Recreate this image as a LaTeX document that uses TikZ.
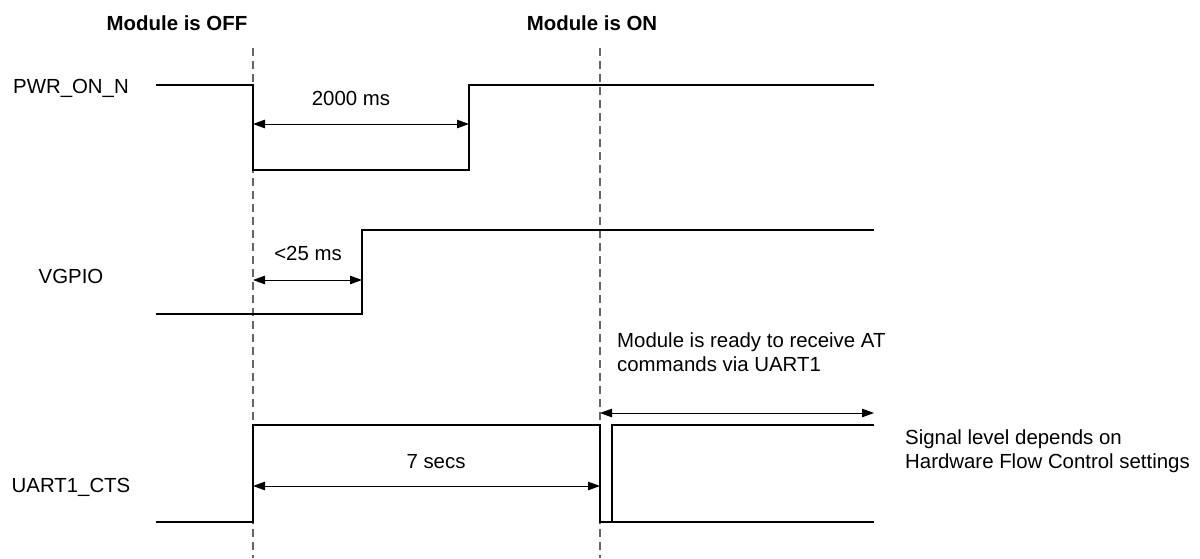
\documentclass[tikz,border=0pt]{standalone}
\usepackage{fontspec}
\setmainfont{Liberation Sans}
\usetikzlibrary{arrows.meta}
\begin{document}
\begin{tikzpicture}[x=1pt,y=-1pt]
\tikzset{
  signal/.style={line width=2.5pt, line join=miter},
  guide/.style={line width=1.3pt, draw=black!60, dash pattern=on 8pt off 5pt},
  span/.style={line width=1pt, {Triangle[length=12pt,width=8.5pt]}-{Triangle[length=12pt,width=8.5pt]}},
  lbl/.style={font=\fontsize{20.4}{24}\selectfont, anchor=base, inner sep=0pt},
  hdr/.style={font=\fontsize{20.4}{24}\selectfont\bfseries, anchor=base, inner sep=0pt},
  note/.style={lbl, anchor=base west, align=left},
}
\useasboundingbox (0,0) rectangle (1200,558);

% state headers and vertical markers
\node[hdr] (off) at (177,30) {Module is OFF};
\node[hdr] (on)  at (592,30) {Module is ON};
\coordinate (t0top) at (253,48);  \coordinate (t0bot) at (253,558);
\coordinate (t1top) at (600,48);  \coordinate (t1bot) at (600,558);
\draw[guide] (t0top) -- (t0bot);
\draw[guide] (t1top) -- (t1bot);

% signal names
\node[lbl] (nPwr)  at (71,93)  {PWR\_ON\_N};
\node[lbl] (nVg)   at (71,283) {VGPIO};
\node[lbl] (nCts)  at (71,492) {UART1\_CTS};

% PWR_ON_N
\coordinate (p0) at (156,85);  \coordinate (p1) at (253,85);
\coordinate (p2) at (253,170); \coordinate (p3) at (469,170);
\coordinate (p4) at (469,85);  \coordinate (p5) at (874,85);
\draw[signal] (p0) -- (p1) -- (p2) -- (p3) -- (p4) -- (p5);
\coordinate (a0) at (253,124); \coordinate (a1) at (469,124);
\draw[span] (a0) -- (a1);
\node[lbl] (tPwr) at (351,105) {2000 ms};

% VGPIO
\coordinate (v0) at (156,314); \coordinate (v1) at (362,314);
\coordinate (v2) at (362,230); \coordinate (v3) at (874,230);
\draw[signal] (v0) -- (v1) -- (v2) -- (v3);
\coordinate (b0) at (253,280); \coordinate (b1) at (362,280);
\draw[span] (b0) -- (b1);
\node[lbl] (tVg) at (308,260) {<25 ms};

% UART1_CTS
\coordinate (c0) at (156,522); \coordinate (c1) at (253,522);
\coordinate (c2) at (253,425); \coordinate (c3) at (600,425);
\coordinate (c4) at (600,522); \coordinate (c5) at (874,522);
\coordinate (c6) at (612,522); \coordinate (c7) at (612,425);
\coordinate (c8) at (874,425);
\draw[signal] (c0) -- (c1) -- (c2) -- (c3) -- (c4) -- (c5);
\draw[signal] (c6) -- (c7) -- (c8);
\coordinate (d0) at (253,486); \coordinate (d1) at (600,486);
\draw[span] (d0) -- (d1);
\node[lbl] (tCts) at (436,468) {7 secs};
\coordinate (e0) at (600,413); \coordinate (e1) at (874,413);
\draw[span] (e0) -- (e1);

% notes
\node[note] (ready) at (617,371) {Module is ready to receive AT\\commands via UART1};
\node[note] (level) at (905,468) {Signal level depends on\\Hardware Flow Control settings};
\end{tikzpicture}
\end{document}
